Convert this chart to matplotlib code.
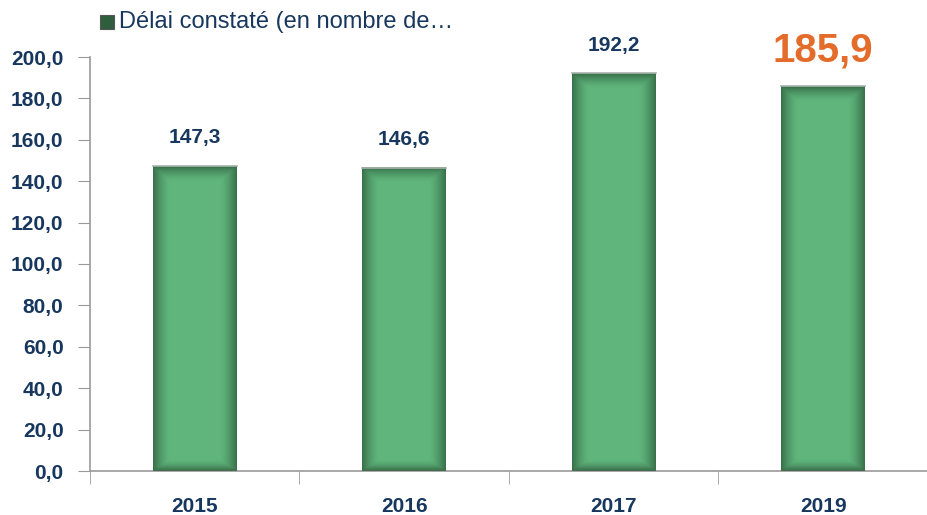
import numpy as np
import matplotlib
matplotlib.use('Agg')
import matplotlib.pyplot as plt
from matplotlib import font_manager

# Data
years = ['2015', '2016', '2017', '2019']
delais = [147.3, 146.6, 192.2, 185.9]
legend_label = 'Délai constaté (en nombre de…'
yticks = np.arange(0, 201, 20)

navy = '#17375E'
orange = '#E46C2A'
green = '#5FB57C'
dark_green = '#2E5E3E'

names = {f.name for f in font_manager.fontManager.ttflist}
fam = 'Liberation Sans Narrow' if 'Liberation Sans Narrow' in names else 'Liberation Sans'
plt.rcParams['font.family'] = [fam, 'DejaVu Sans']

fig = plt.figure(figsize=(9.28, 5.15), dpi=100)
W, H = 928, 515
x0, x1, y0, y1 = 90, 928, 44, 458
ax = fig.add_axes([x0 / W, y0 / H, (x1 - x0) / W, (y1 - y0) / H])
step = 211.7
ax.set_xlim(-0.5, -0.5 + (x1 - x0) / step)
ax.set_ylim(0, 200)

x = np.arange(len(years))
bw = 0.4
bars = ax.bar(x, delais, width=bw, color=green, edgecolor='none', zorder=2)

# dark shading toward the edges of each bar
nx, ny = 80, 200
gx = np.linspace(-1, 1, nx)
shade_x = np.clip((np.abs(gx) - 0.6) / 0.4, 0, 1) ** 1.5
for b in bars:
    bx, bwid, bh = b.get_x(), b.get_width(), b.get_height()
    gy = np.linspace(0, bh, ny)
    dist_top = bh - gy
    shade_y = np.clip(1 - dist_top / 7, 0, 1) ** 1.5
    shade_b = np.clip(1 - gy / 5, 0, 1) ** 1.5
    a = np.maximum(shade_x[None, :], np.maximum(shade_y[:, None], shade_b[:, None])) * 0.75
    img = np.zeros((ny, nx, 4))
    img[..., 0] = 0.18
    img[..., 1] = 0.36
    img[..., 2] = 0.23
    img[..., 3] = a
    ax.imshow(img, extent=(bx, bx + bwid, 0, bh), origin='lower',
              aspect='auto', zorder=3, interpolation='bilinear')
    ax.plot([bx, bx + bwid], [bh, bh], color='#A9B3AC', lw=1.2, zorder=4)

for i, v in enumerate(delais):
    lab = f'{v:.1f}'.replace('.', ',')
    if i == len(delais) - 1:
        ax.text(i, v + 8, lab, ha='center', va='bottom', color=orange,
                fontsize=29, fontweight='bold')
    else:
        ax.text(i, v + 9, lab, ha='center', va='bottom', color=navy,
                fontsize=15, fontweight='bold')

ax.set_yticks(yticks)
ax.set_yticklabels([f'{t:.1f}'.replace('.', ',') for t in yticks],
                   color=navy, fontsize=15, fontweight='bold')
ax.set_xticks(x)
ax.set_xticklabels(years, color=navy, fontsize=15, fontweight='bold')
ax.tick_params(axis='x', length=0, pad=19)
ax.set_xticks(np.arange(-0.5, len(years), 1), minor=True)
ax.tick_params(axis='x', which='minor', length=9, color='#9A9A9A', direction='out')
ax.tick_params(axis='y', length=9, color='#9A9A9A', pad=10)
for s in ['top', 'right']:
    ax.spines[s].set_visible(False)
for s in ['left', 'bottom']:
    ax.spines[s].set_color('#9A9A9A')
    ax.spines[s].set_linewidth(1.2)

# legend
fig.patches.append(plt.Rectangle((100 / W, 1 - 29 / H), 14 / W, 14 / H,
                                 transform=fig.transFigure, facecolor=dark_green,
                                 edgecolor='#555555', lw=0.8))
fig.text(119 / W, 1 - 22 / H, legend_label, color=navy, fontsize=17,
         va='center', ha='left')

fig.savefig('out.png', dpi=100)
